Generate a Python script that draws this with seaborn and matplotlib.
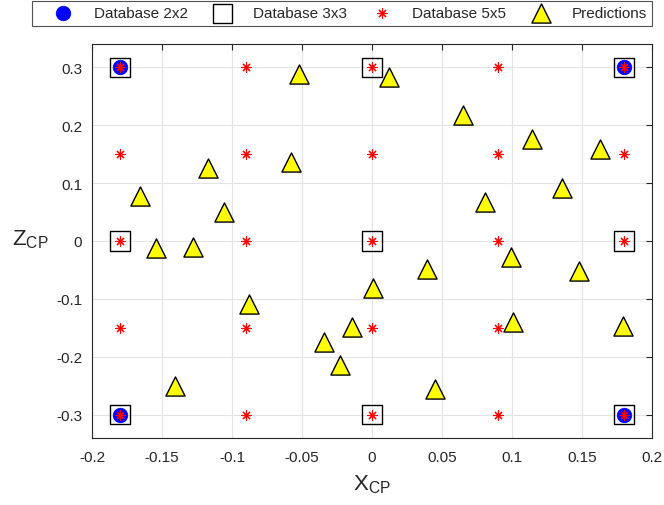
import matplotlib.pyplot as plt
import numpy as np
import seaborn as sns
import pandas as pd

# database grids
x_2x2 = [-0.18, 0.18]
z_2x2 = [-0.3, 0.3]
x_3x3 = [-0.18, 0.0, 0.18]
z_3x3 = [-0.3, 0.0, 0.3]
x_5x5 = [-0.18, -0.09, 0.0, 0.09, 0.18]
z_5x5 = [-0.3, -0.15, 0.0, 0.15, 0.3]

# predictions
x_pred = [-0.052, 0.012, 0.065, 0.114, 0.163, 0.136, 0.081, -0.058, -0.117, -0.166,
          -0.106, -0.154, -0.128, -0.088, 0.001, -0.014, -0.034, -0.023, -0.141, 0.099,
          0.039, 0.148, 0.101, 0.179, 0.045]
z_pred = [0.288, 0.283, 0.217, 0.176, 0.159, 0.091, 0.067, 0.136, 0.126, 0.078,
          0.050, -0.012, -0.010, -0.109, -0.081, -0.148, -0.174, -0.214, -0.250, -0.028,
          -0.048, -0.052, -0.140, -0.146, -0.255]


def griglia(xs, zs):
    xx, zz = np.meshgrid(xs, zs)
    return pd.DataFrame({'x': xx.ravel(), 'z': zz.ravel()})


df2 = griglia(x_2x2, z_2x2)
df3 = griglia(x_3x3, z_3x3)
df5 = griglia(x_5x5, z_5x5)
dfp = pd.DataFrame({'x': x_pred, 'z': z_pred})

sns.set_style('white')
plt.rcParams['font.family'] = ['Liberation Sans', 'DejaVu Sans']

fig = plt.figure(figsize=(6.64, 5.06), dpi=100)
ax = fig.add_axes([92/664, 67/506, 560/664, 394/506])

sns.scatterplot(data=df2, x='x', y='z', ax=ax, marker='o', s=110, color='blue',
                edgecolor='blue', linewidth=0.5, label='Database 2x2', zorder=3)
sns.scatterplot(data=df3, x='x', y='z', ax=ax, marker='s', s=190, facecolor='none',
                edgecolor='black', linewidth=1.0, label='Database 3x3', zorder=2)
sns.scatterplot(data=df5, x='x', y='z', ax=ax, marker=(8, 2, 0), s=45, color='red',
                edgecolor='red', linewidth=0.8, label='Database 5x5', zorder=4)
sns.scatterplot(data=dfp, x='x', y='z', ax=ax, marker='^', s=190, color='yellow',
                edgecolor='black', linewidth=1.0, label='Predictions', zorder=5)

ax.set_xlim(-0.2, 0.2)
ax.set_ylim(-0.34, 0.34)
ax.set_xticks(np.arange(-0.2, 0.201, 0.05))
ax.set_xticklabels(['-0.2', '-0.15', '-0.1', '-0.05', '0', '0.05', '0.1', '0.15', '0.2'])
ax.set_yticks(np.arange(-0.3, 0.301, 0.1))
ax.set_yticklabels(['-0.3', '-0.2', '-0.1', '0', '0.1', '0.2', '0.3'])
ax.grid(True, color='#e3e3e3', linewidth=0.8)
ax.set_axisbelow(True)
ax.tick_params(direction='in', top=True, right=True, length=4, width=0.8,
               labelsize=11, colors='#262626')
ax.tick_params(axis='x', pad=9)
ax.tick_params(axis='y', pad=7)
for s in ax.spines.values():
    s.set_color('#262626')
    s.set_linewidth(0.8)

ax.set_xlabel('X$_\\mathregular{CP}$', fontsize=16, color='#262626')
ax.xaxis.set_label_coords(0.5, -0.088)
ax.set_ylabel('Z$_\\mathregular{CP}$', fontsize=16, color='#262626', rotation=0,
              ha='center', va='center')
ax.yaxis.set_label_coords(-0.111, 0.505)

# legenda in alto, fuori dagli assi
handles, labels = ax.get_legend_handles_labels()
ax.legend_.remove()
leg = fig.legend(handles, labels, ncol=4, loc='upper left',
                 bbox_to_anchor=(32/664, 1 - 28/506, 620/664, 26/506), mode='expand',
                 borderaxespad=0, fontsize=11, frameon=True, fancybox=False,
                 edgecolor='#262626', borderpad=0.35, handlelength=3.4,
                 handletextpad=0.3, columnspacing=1.0)
leg.get_frame().set_linewidth(0.8)

plt.savefig('out.png', dpi=100)
plt.close()
